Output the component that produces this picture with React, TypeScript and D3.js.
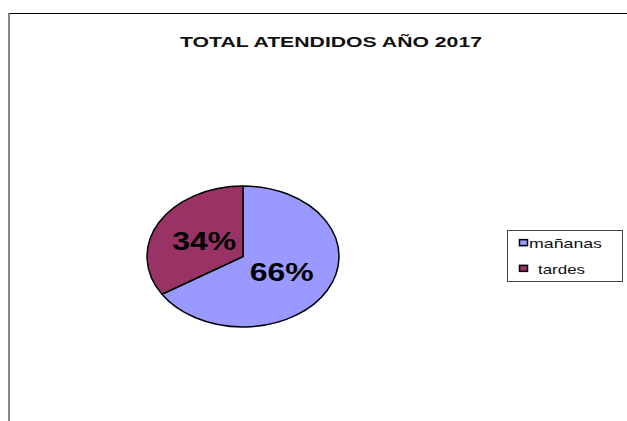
import React from "react";
import * as d3 from "d3";

const WIDTH = 627;
const HEIGHT = 421;

const TITLE = "TOTAL ATENDIDOS AÑO 2017";
const categories = ["mañanas", "tardes"];
const values = [66, 34];
const colors = ["#9999FF", "#993366"];

// the source picture is stretched sideways, so the pie is drawn as a circle and scaled in x
const PIE_CX = 243;
const PIE_CY = 256.5;
const PIE_RY = 70.5;
const PIE_SX = 96 / 70.5;
const FONT = "'Liberation Sans', Arial, sans-serif";

interface Slice {
    name: string;
    value: number;
    color: string;
}

export default function App() {
    const data: Slice[] = categories.map((name, i) => ({name, value: values[i], color: colors[i]}));
    const total = d3.sum(values);

    const pie = d3.pie<Slice>().sort(null).value(d => d.value);
    const arcs = pie(data);
    const arc = d3.arc<d3.PieArcDatum<Slice>>().innerRadius(0).outerRadius(PIE_RY);
    const labelArc = d3.arc<d3.PieArcDatum<Slice>>().innerRadius(PIE_RY * 0.46).outerRadius(PIE_RY * 0.46);
    const pct = d3.format(".0%");

    const legendY = d3.scaleBand<string>().domain(categories).range([230, 284]).padding(0.1);

    return (
        <div style={{position: "absolute", left: 0, top: 0}}>
            <svg width={WIDTH} height={HEIGHT} style={{display: "block", background: "#fff"}}>
                {/* chart frame, only top and left edges are visible */}
                <line x1={9} y1={13.5} x2={WIDTH} y2={13.5} stroke="#000" strokeWidth={1.2}/>
                <line x1={9} y1={13} x2={9} y2={HEIGHT} stroke="#555" strokeWidth={1.4}/>

                <text x={331} y={47} textAnchor="middle" fontFamily={FONT} fontWeight="bold" fontSize={15}
                      textLength={302} lengthAdjust="spacingAndGlyphs" fill="#111">{TITLE}</text>

                <g transform={`translate(${PIE_CX},${PIE_CY}) scale(${PIE_SX},1)`}>
                    {arcs.map((a, i) => (
                        <path key={i} d={arc(a) || ""} fill={a.data.color} stroke="#000" strokeWidth={1.5}
                              vectorEffect="non-scaling-stroke" strokeLinejoin="round"/>
                    ))}
                </g>
                {arcs.map((a, i) => {
                    const [lx, ly] = labelArc.centroid(a);
                    return (
                        <text key={i} x={PIE_CX + lx * PIE_SX} y={PIE_CY + ly + 9} textAnchor="middle"
                              fontFamily={FONT} fontWeight="bold" fontSize={25} textLength={64}
                              lengthAdjust="spacingAndGlyphs" fill="#000">
                            {pct(a.data.value / total)}
                        </text>
                    );
                })}

                <rect x={507.5} y={230.5} width={115} height={51} fill="#fff" stroke="#444" strokeWidth={1}/>
                {data.map((d) => {
                    const y = (legendY(d.name) || 0) + legendY.bandwidth() / 2;
                    const tl = d.name === "mañanas" ? 73 : 47;
                    const tx = d.name === "mañanas" ? 529 : 538;
                    return (
                        <g key={d.name}>
                            <rect x={519.5} y={y - 4.5} width={8} height={6} fill={d.color} stroke="#000"
                                  strokeWidth={1.5}/>
                            <text x={tx} y={y + 4} fontFamily={FONT} fontSize={13} textLength={tl}
                                  lengthAdjust="spacingAndGlyphs" fill="#111">{d.name}</text>
                        </g>
                    );
                })}
            </svg>
        </div>
    );
}
